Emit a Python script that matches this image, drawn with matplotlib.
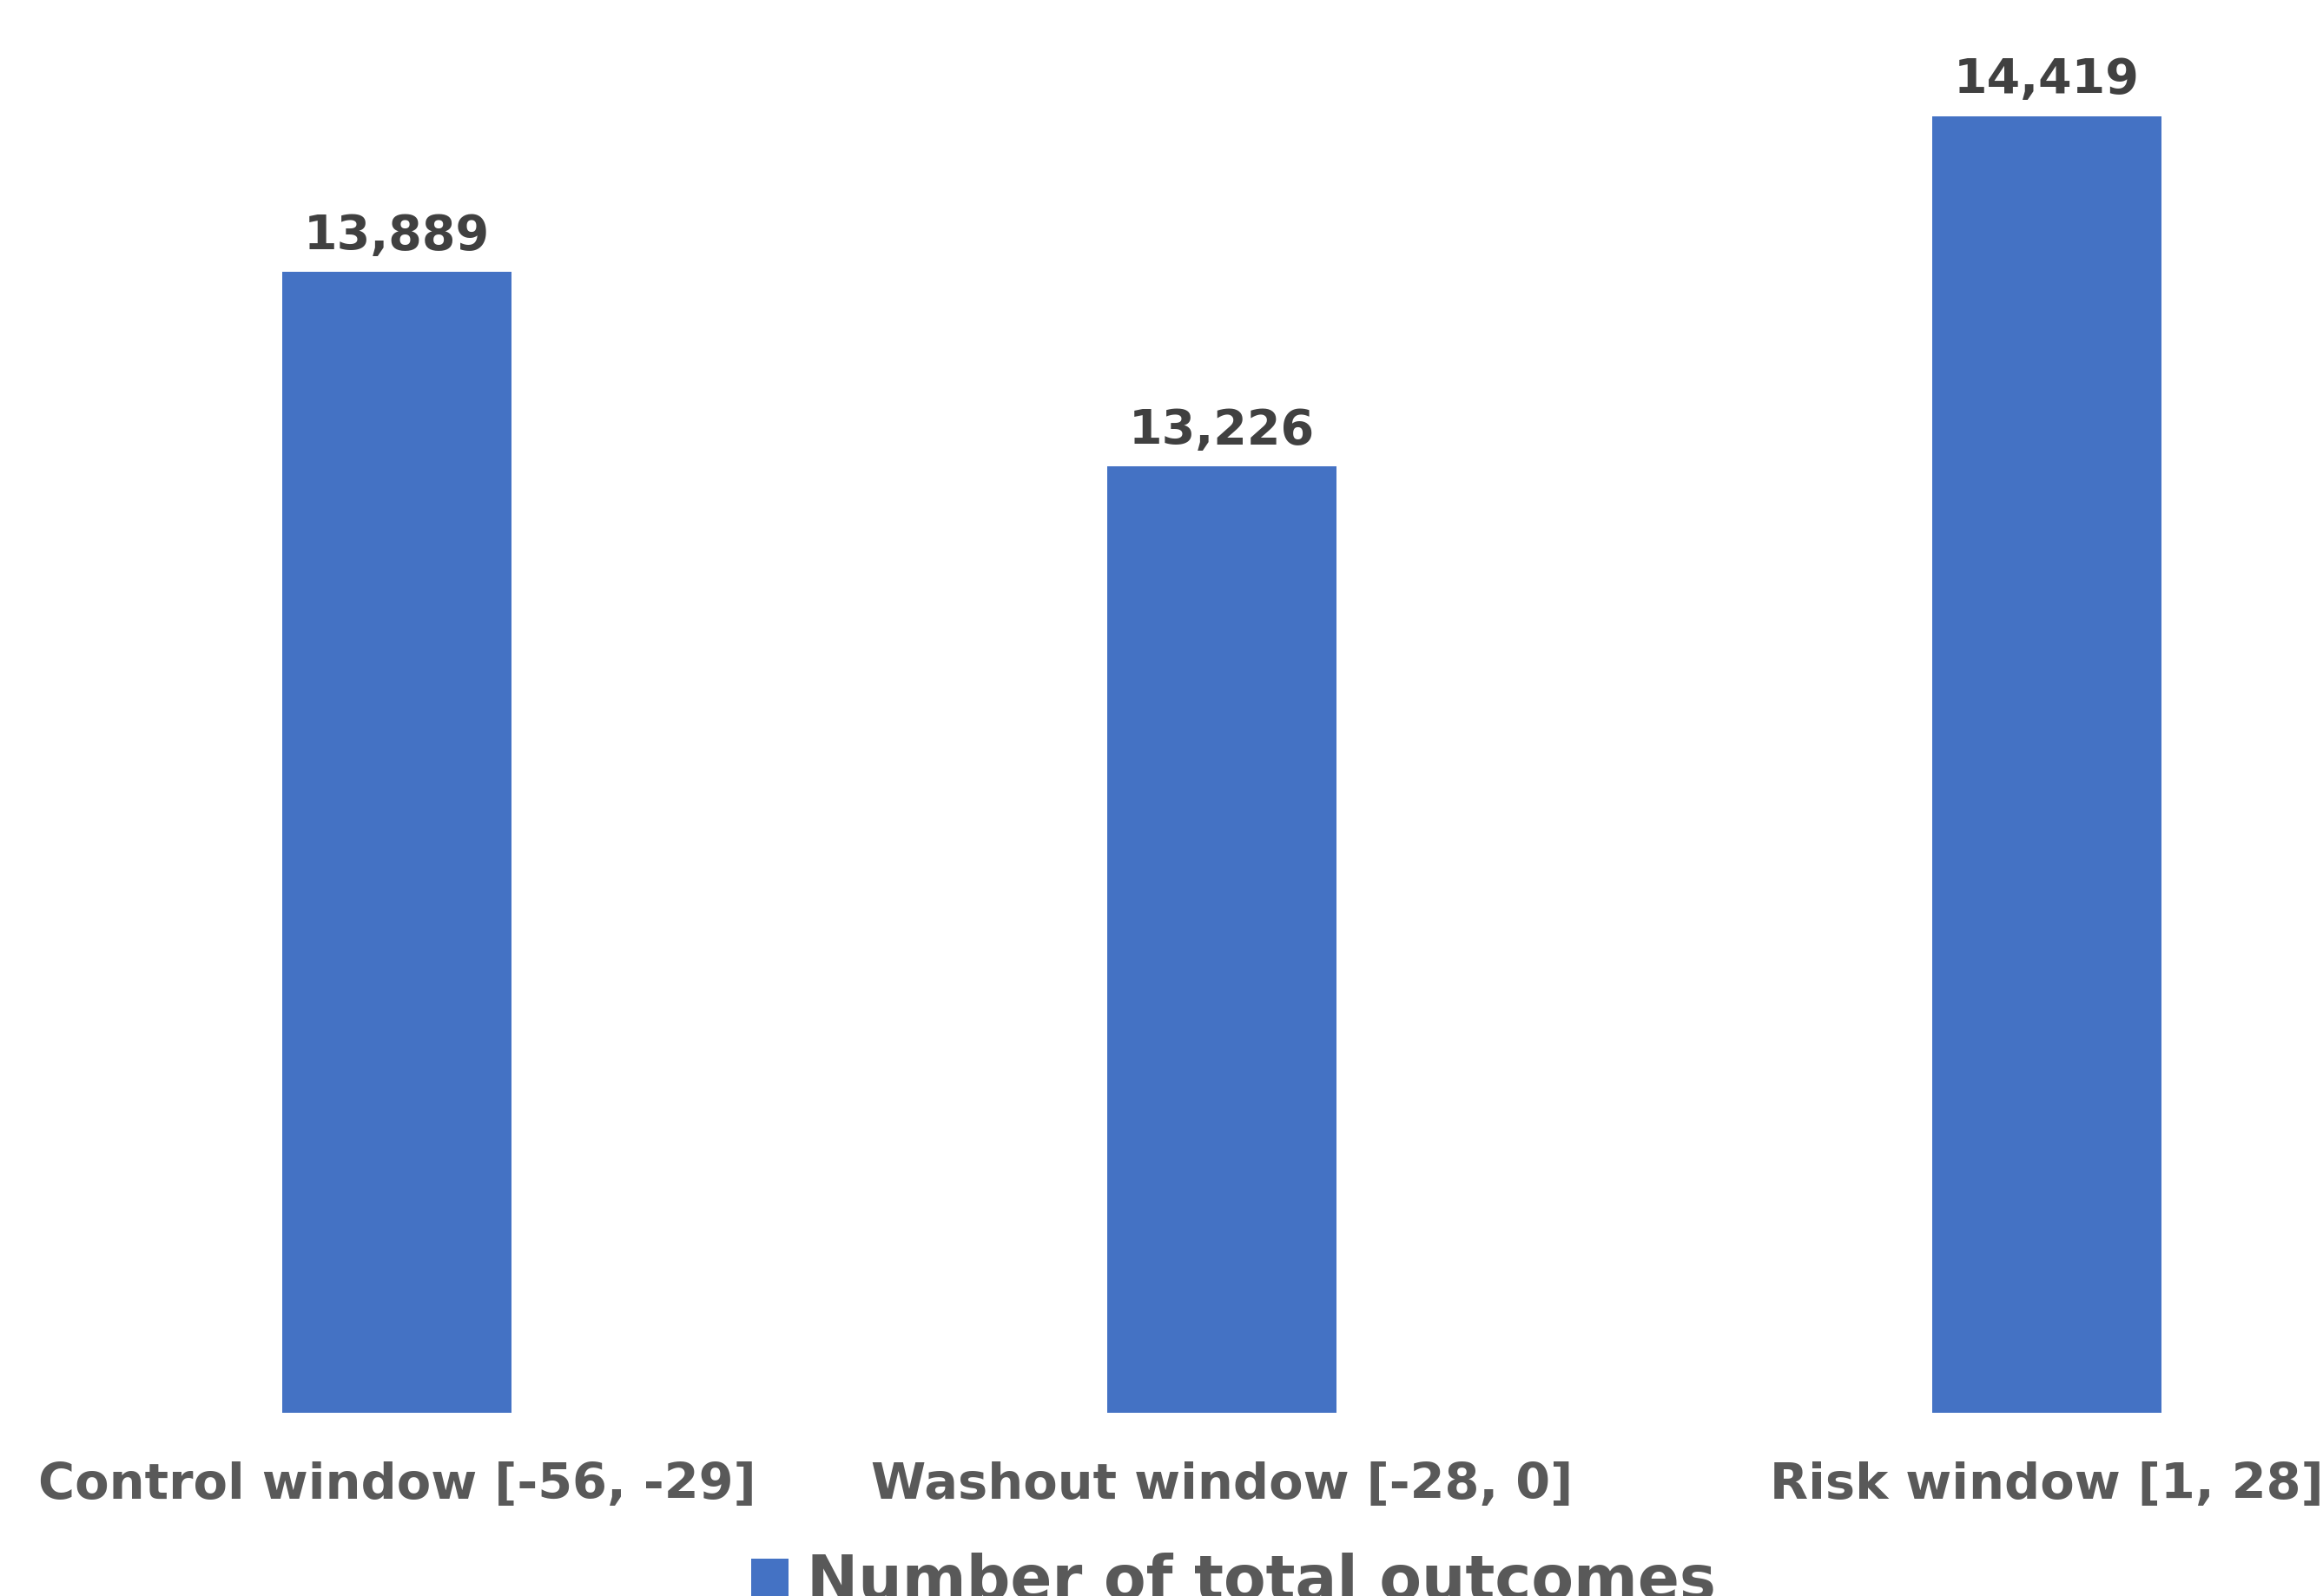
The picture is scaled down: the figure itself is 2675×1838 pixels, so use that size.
import matplotlib
matplotlib.use("Agg")
import matplotlib.pyplot as plt
from matplotlib.patches import Patch

# data
categories = ["Control window [-56, -29]", "Washout window [-28, 0]", "Risk window [1, 28]"]
outcomes = [13889, 13226, 14419]
series_name = "Number of total outcomes"

bar_color = "#4472C4"
label_color = "#404040"
axis_text_color = "#595959"

plt.rcParams['font.family'] = ['DejaVu Sans']

fig = plt.figure(figsize=(26.75, 18.38), dpi=100)
ax = fig.add_axes([0, 0.1148, 1, 0.8852])

x = list(range(len(categories)))
bars = ax.bar(x, outcomes, width=0.278, color=bar_color, label=series_name)

# value labels above the bars
for xi, v in zip(x, outcomes):
    ax.annotate(f"{v:,}", (xi, v), xytext=(0, 19), textcoords='offset points',
                ha='center', va='baseline', fontsize=40, fontweight='bold',
                color=label_color)

ax.set_xlim(-0.481, 2.335)
ax.set_ylim(10000, 14815)
ax.set_xticks(x)
ax.set_xticklabels(categories, fontsize=41.3, fontweight='bold', color=axis_text_color)
ax.tick_params(axis='x', length=0, pad=40)
ax.set_yticks([])
for s in ax.spines.values():
    s.set_visible(False)

handle = Patch(facecolor=bar_color, edgecolor='none')
fig.legend([handle], [series_name], loc='upper center', bbox_to_anchor=(0.531, 0.027),
           frameon=False, handlelength=0.6, handleheight=0.6,
           handletextpad=0.3, borderpad=0, borderaxespad=0,
           prop={'weight': 'bold', 'size': 51}, labelcolor=axis_text_color)

fig.savefig("out.png", dpi=100)
